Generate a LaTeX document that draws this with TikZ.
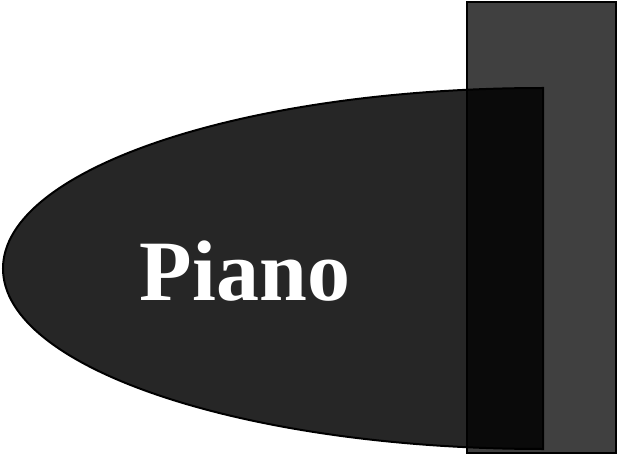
\documentclass[tikz,border=0pt]{standalone}
\usepackage{fontspec}
\usepackage{tikz}
\usepackage{xcolor}
\setmainfont{Liberation Serif}
\begin{document}
\begin{tikzpicture}[x=1pt, y=1pt]
				\useasboundingbox (0, 0) rectangle (619, 456);
				\fill[black, fill opacity={0.85}] (543, 368) arc[start angle=90, end angle=270, x radius=540, y radius=180.5] -- cycle;
				\draw[black, line width={2pt}] (543, 368) arc[start angle=90, end angle=270, x radius=540, y radius=180.5] -- cycle;
				\fill[black, fill opacity={0.75}] (466.5, 3) rectangle (615.5, 453.5);
				\draw[black, line width={2pt}] (466.5, 3) rectangle (615.5, 453.5);
				\node[anchor=base, text=white, font={\fontsize{86}{90}\selectfont\bfseries}, inner sep=0pt] (piano) at (245, 156) {Piano};
			\end{tikzpicture}
\end{document}
